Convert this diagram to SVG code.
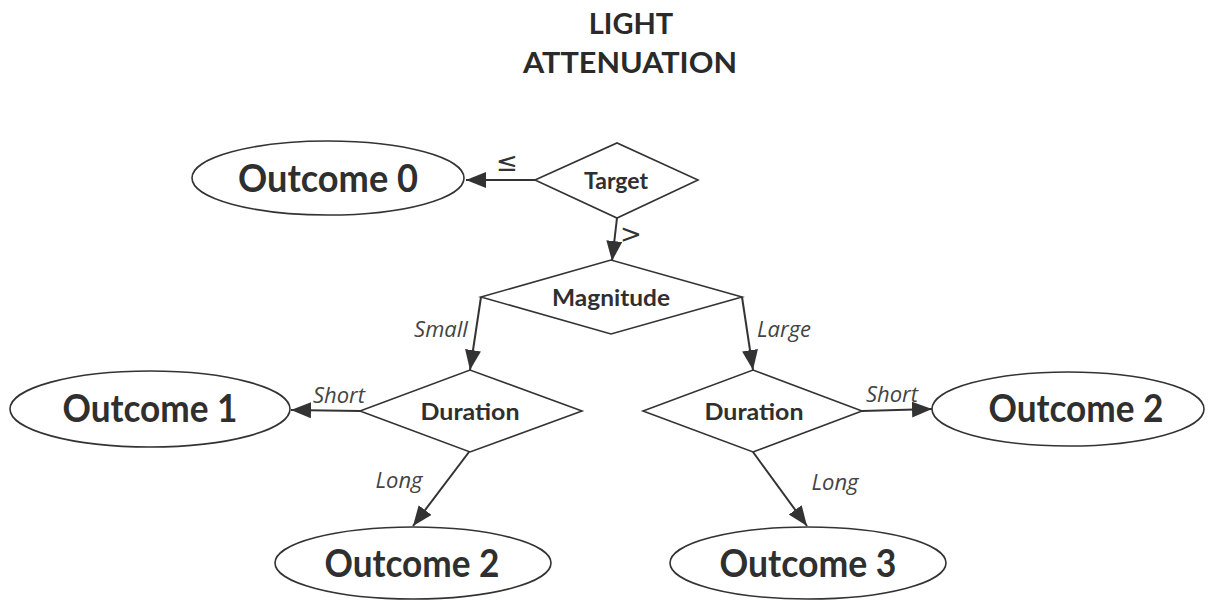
<svg xmlns="http://www.w3.org/2000/svg" width="1209" height="600" viewBox="0 0 1209 600">
<defs>
<marker id="ah" markerUnits="userSpaceOnUse" markerWidth="22" markerHeight="18" refX="20" refY="8" orient="auto">
<path d="M0,0 L20,8 L0,16 Z" fill="#333"/>
</marker>
<style>
.shape{fill:#fff;stroke:#333;stroke-width:1.6}
.edge{stroke:#333;stroke-width:2;fill:none;marker-end:url(#ah)}
.title{font-family:Lato,"Open Sans",sans-serif;font-weight:700;font-size:29px;fill:#2a2a2a;text-anchor:middle}
.out{font-family:Lato,"Open Sans",sans-serif;font-weight:700;font-size:38px;fill:#2f2f2f;text-anchor:middle}
.dec{font-family:Lato,"Open Sans",sans-serif;font-weight:700;font-size:23px;fill:#2f2f2f;text-anchor:middle}
.lab{font-family:"Open Sans",Lato,sans-serif;font-style:italic;font-size:22px;fill:#444;text-anchor:middle}
.sym{font-family:"DejaVu Sans",sans-serif;font-size:26px;fill:#333;text-anchor:middle}
</style>
</defs>
<rect width="1209" height="600" fill="#fff"/>
<g id="title">
<text class="title" x="631" y="34">LIGHT</text>
<text class="title" x="630" y="73" textLength="214" lengthAdjust="spacingAndGlyphs">ATTENUATION</text>
</g>
<g id="connectors">
<line class="edge" x1="535" y1="180" x2="466" y2="180"/>
<line class="edge" x1="617" y1="218" x2="612" y2="261"/>
<line class="edge" x1="481" y1="297" x2="470" y2="370"/>
<line class="edge" x1="742" y1="297" x2="753" y2="370"/>
<line class="edge" x1="360" y1="411" x2="291" y2="410"/>
<line class="edge" x1="862" y1="411" x2="932" y2="409"/>
<line class="edge" x1="469" y1="452" x2="413" y2="526"/>
<line class="edge" x1="753" y1="452" x2="807" y2="526"/>
<text class="sym" x="507" y="171">≤</text>
<text class="sym" x="631" y="243">&gt;</text>
<text class="lab" x="441" y="337">Small</text>
<text class="lab" x="784" y="337">Large</text>
<text class="lab" x="339" y="403">Short</text>
<text class="lab" x="892" y="402">Short</text>
<text class="lab" x="399" y="488">Long</text>
<text class="lab" x="835" y="490">Long</text>
</g>
<g id="outcome0">
<ellipse class="shape" cx="328" cy="178" rx="136" ry="37"/>
<text class="out" x="328" y="192" textLength="180" lengthAdjust="spacingAndGlyphs">Outcome 0</text>
</g>
<g id="target">
<polygon class="shape" points="535,180 617,143 698,180 617,218"/>
<text class="dec" x="616" y="189">Target</text>
</g>
<g id="magnitude">
<polygon class="shape" points="481,297 611,260 742,297 611,334"/>
<text class="dec" x="611" y="306" textLength="118" lengthAdjust="spacingAndGlyphs">Magnitude</text>
</g>
<g id="duration1">
<polygon class="shape" points="360,411 470,370 582,411 470,452"/>
<text class="dec" x="470" y="420" textLength="99" lengthAdjust="spacingAndGlyphs">Duration</text>
</g>
<g id="duration2">
<polygon class="shape" points="643,411 753,370 862,411 753,452"/>
<text class="dec" x="754" y="420" textLength="99" lengthAdjust="spacingAndGlyphs">Duration</text>
</g>
<g id="outcome1">
<ellipse class="shape" cx="150" cy="409" rx="140" ry="38"/>
<text class="out" x="150" y="422" textLength="175" lengthAdjust="spacingAndGlyphs">Outcome 1</text>
</g>
<g id="outcome2right">
<ellipse class="shape" cx="1068" cy="409" rx="136" ry="37"/>
<text class="out" x="1076" y="422" textLength="175" lengthAdjust="spacingAndGlyphs">Outcome 2</text>
</g>
<g id="outcome2bottom">
<ellipse class="shape" cx="413" cy="563" rx="138" ry="36"/>
<text class="out" x="412" y="577" textLength="175" lengthAdjust="spacingAndGlyphs">Outcome 2</text>
</g>
<g id="outcome3">
<ellipse class="shape" cx="808" cy="563" rx="138" ry="36"/>
<text class="out" x="808" y="577" textLength="177" lengthAdjust="spacingAndGlyphs">Outcome 3</text>
</g>
</svg>
